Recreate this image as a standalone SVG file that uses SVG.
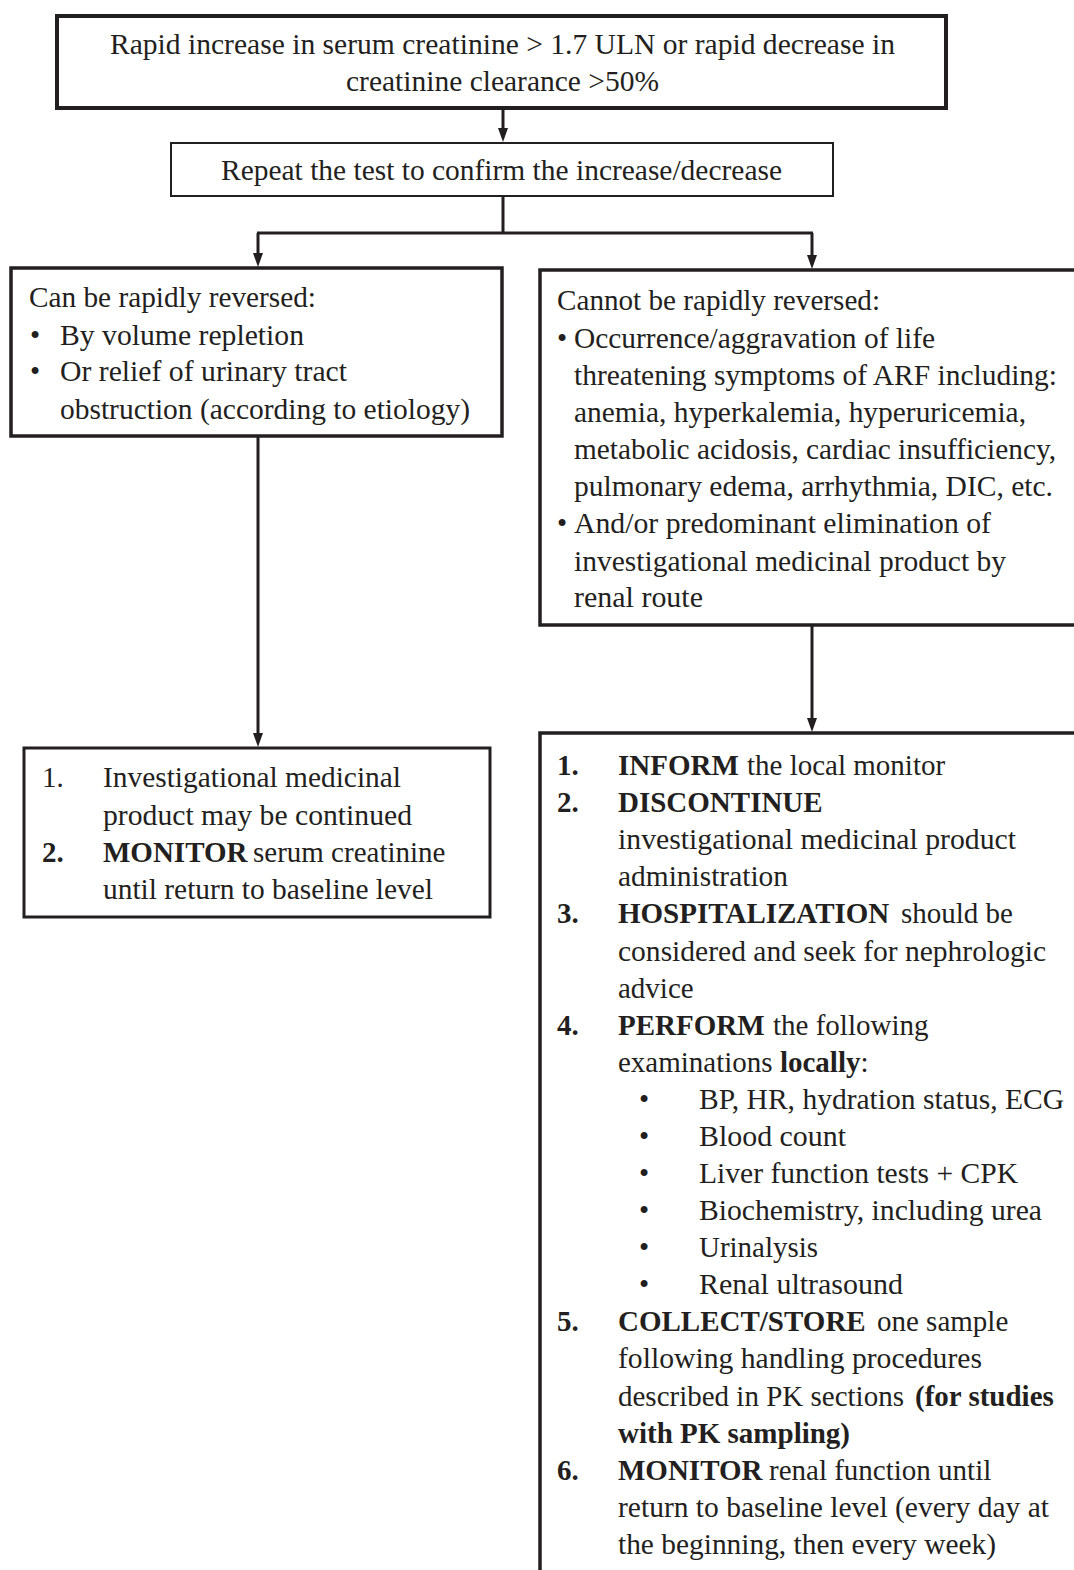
<svg xmlns="http://www.w3.org/2000/svg" width="1074" height="1570" viewBox="0 0 1074 1570">
<style>
  text { font-family: "Liberation Serif", "Times New Roman", serif; font-size: 29px; fill: #231f20; }
  .b { font-weight: bold; }
  .box { fill: #ffffff; stroke: #231f20; }
  .conn { fill: none; stroke: #231f20; stroke-width: 3; }
  .head { fill: #231f20; }
</style>
<rect width="1074" height="1570" fill="#ffffff"/>

<g id="connectors">
  <path class="conn" d="M503,108 V129"/>
  <path class="head" d="M498,128 L508,128 L503,142 Z"/>
  <path class="conn" d="M503,196 V233 M257,233 H813"/>
  <path class="conn" d="M258,233 V254"/>
  <path class="head" d="M253,253 L263,253 L258,267 Z"/>
  <path class="conn" d="M812,233 V256"/>
  <path class="head" d="M807,255 L817,255 L812,269 Z"/>
  <path class="conn" d="M258,436 V734"/>
  <path class="head" d="M253,733 L263,733 L258,747 Z"/>
  <path class="conn" d="M812,625 V719"/>
  <path class="head" d="M807,718 L817,718 L812,732 Z"/>
</g>

<g id="n-start">
  <rect class="box" x="57" y="16" width="889" height="92" stroke-width="4"/>
  <text x="110" y="54" textLength="785" lengthAdjust="spacingAndGlyphs">Rapid increase in serum creatinine &gt; 1.7 ULN or rapid decrease in</text>
  <text x="346" y="91" textLength="313" lengthAdjust="spacingAndGlyphs">creatinine clearance &gt;50%</text>
</g>

<g id="n-repeat">
  <rect class="box" x="171" y="143" width="662" height="53" stroke-width="2"/>
  <text x="221" y="180" textLength="561" lengthAdjust="spacingAndGlyphs">Repeat the test to confirm the increase/decrease</text>
</g>

<g id="n-reversible">
  <rect class="box" x="11" y="268" width="491" height="168" stroke-width="3.5"/>
  <text x="29" y="307" textLength="287" lengthAdjust="spacingAndGlyphs">Can be rapidly reversed:</text>
  <text x="30" y="345">•</text>
  <text x="60" y="345" textLength="244" lengthAdjust="spacingAndGlyphs">By volume repletion</text>
  <text x="30" y="381">•</text>
  <text x="60" y="381" textLength="287" lengthAdjust="spacingAndGlyphs">Or relief of urinary tract</text>
  <text x="60" y="419" textLength="410" lengthAdjust="spacingAndGlyphs">obstruction (according to etiology)</text>
</g>

<g id="n-irreversible">
  <rect class="box" x="540" y="270" width="545" height="355" stroke-width="3.5"/>
  <text x="557" y="310" textLength="323" lengthAdjust="spacingAndGlyphs">Cannot be rapidly reversed:</text>
  <text x="557" y="348">•</text>
  <text x="574" y="348" textLength="361" lengthAdjust="spacingAndGlyphs">Occurrence/aggravation  of life</text>
  <text x="574" y="385" textLength="483" lengthAdjust="spacingAndGlyphs">threatening symptoms of ARF including:</text>
  <text x="574" y="422" textLength="452" lengthAdjust="spacingAndGlyphs">anemia, hyperkalemia, hyperuricemia,</text>
  <text x="574" y="459" textLength="482" lengthAdjust="spacingAndGlyphs">metabolic acidosis, cardiac insufficiency,</text>
  <text x="574" y="496" textLength="479" lengthAdjust="spacingAndGlyphs">pulmonary edema, arrhythmia, DIC, etc.</text>
  <text x="557" y="533">•</text>
  <text x="574" y="533" textLength="417" lengthAdjust="spacingAndGlyphs">And/or predominant elimination of</text>
  <text x="574" y="571" textLength="432" lengthAdjust="spacingAndGlyphs">investigational medicinal product by</text>
  <text x="574" y="607" textLength="129" lengthAdjust="spacingAndGlyphs">renal route</text>
</g>

<g id="n-continue">
  <rect class="box" x="24" y="748" width="466" height="169" stroke-width="3"/>
  <text x="42" y="787">1.</text>
  <text x="103" y="787" textLength="298" lengthAdjust="spacingAndGlyphs">Investigational  medicinal</text>
  <text x="103" y="825" textLength="309" lengthAdjust="spacingAndGlyphs">product may be continued</text>
  <text x="42" y="862" class="b">2.</text>
  <text x="103" y="862"><tspan class="b">MONITOR</tspan><tspan x="253">serum creatinine</tspan></text>
  <text x="103" y="899" textLength="330" lengthAdjust="spacingAndGlyphs">until return to baseline level</text>
</g>

<g id="n-discontinue">
  <rect class="box" x="540" y="733" width="545" height="850" stroke-width="3.5"/>
  <text x="557" y="775" class="b">1.</text>
  <text x="618" y="775"><tspan class="b">INFORM</tspan><tspan x="747">the local monitor</tspan></text>
  <text x="557" y="812" class="b">2.</text>
  <text x="618" y="812" class="b">DISCONTINUE</text>
  <text x="618" y="849" textLength="398" lengthAdjust="spacingAndGlyphs">investigational medicinal product</text>
  <text x="618" y="886" textLength="170" lengthAdjust="spacingAndGlyphs">administration</text>
  <text x="557" y="923" class="b">3.</text>
  <text x="618" y="923"><tspan class="b">HOSPITALIZATION</tspan><tspan x="901">should be</tspan></text>
  <text x="618" y="961" textLength="428" lengthAdjust="spacingAndGlyphs">considered and seek for nephrologic</text>
  <text x="618" y="998">advice</text>
  <text x="557" y="1035" class="b">4.</text>
  <text x="618" y="1035"><tspan class="b">PERFORM</tspan><tspan x="773">the following</tspan></text>
  <text x="618" y="1072">examinations <tspan class="b">locally</tspan>:</text>
  <text x="639" y="1109">•</text>
  <text x="699" y="1109" textLength="365" lengthAdjust="spacingAndGlyphs">BP, HR, hydration status, ECG</text>
  <text x="639" y="1146">•</text>
  <text x="699" y="1146" textLength="147" lengthAdjust="spacingAndGlyphs">Blood count</text>
  <text x="639" y="1183">•</text>
  <text x="699" y="1183" textLength="319" lengthAdjust="spacingAndGlyphs">Liver  function tests + CPK</text>
  <text x="639" y="1220">•</text>
  <text x="699" y="1220" textLength="343" lengthAdjust="spacingAndGlyphs">Biochemistry,  including urea</text>
  <text x="639" y="1257">•</text>
  <text x="699" y="1257" textLength="119" lengthAdjust="spacingAndGlyphs">Urinalysis</text>
  <text x="639" y="1294">•</text>
  <text x="699" y="1294" textLength="204" lengthAdjust="spacingAndGlyphs">Renal ultrasound</text>
  <text x="557" y="1331" class="b">5.</text>
  <text x="618" y="1331"><tspan class="b">COLLECT/STORE</tspan><tspan x="877">one sample</tspan></text>
  <text x="618" y="1368" textLength="364" lengthAdjust="spacingAndGlyphs">following handling procedures</text>
  <text x="618" y="1406">described in PK sections <tspan class="b" x="915">(for studies</tspan></text>
  <text x="618" y="1443" class="b">with PK sampling)</text>
  <text x="557" y="1480" class="b">6.</text>
  <text x="618" y="1480"><tspan class="b">MONITOR</tspan><tspan x="769">renal function until</tspan></text>
  <text x="618" y="1517" textLength="431" lengthAdjust="spacingAndGlyphs">return to baseline level (every day at</text>
  <text x="618" y="1554" textLength="378" lengthAdjust="spacingAndGlyphs">the beginning,  then every  week)</text>
</g>
</svg>
